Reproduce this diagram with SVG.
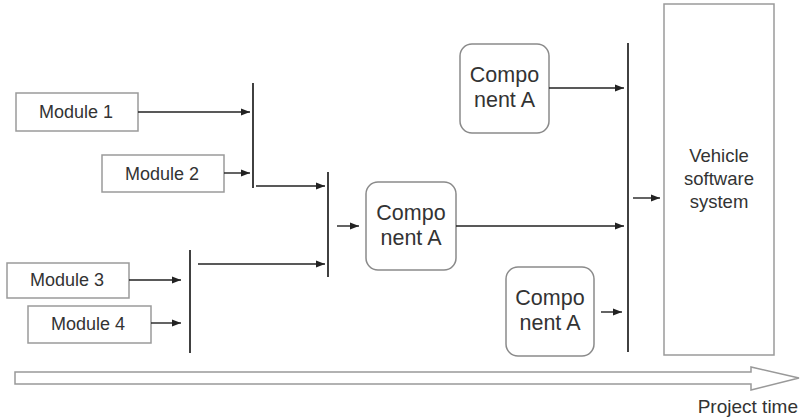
<svg xmlns="http://www.w3.org/2000/svg" width="800" height="420" viewBox="0 0 800 420">
<style>
.mod{fill:#fff;stroke:#9a9a9a;stroke-width:1.5}
.comp{fill:#fff;stroke:#8a8a8a;stroke-width:1.5}
.t{font-family:"Liberation Sans",Arial,sans-serif;fill:#333;text-anchor:middle}
.ts{font-size:18px}
.tv{font-size:18.5px}
.tc{font-size:21.5px}
.bar{stroke:#111;stroke-width:1.6}
.c{stroke:#222;stroke-width:1.4;fill:none;marker-end:url(#ah)}
</style>
<defs>
<marker id="ah" markerUnits="userSpaceOnUse" markerWidth="10" markerHeight="8" refX="9" refY="4" orient="auto">
<path d="M0,0.5 L9,4 L0,7.5 Z" fill="#222"/>
</marker>
</defs>
<g id="module1"><rect class="mod" x="16" y="93" width="122" height="38"/><text class="t ts" x="76" y="118">Module 1</text></g>
<g id="module2"><rect class="mod" x="102" y="155" width="122" height="37"/><text class="t ts" x="162" y="180">Module 2</text></g>
<g id="module3"><rect class="mod" x="7" y="263" width="122" height="35"/><text class="t ts" x="67" y="286">Module 3</text></g>
<g id="module4"><rect class="mod" x="28" y="306" width="123" height="37"/><text class="t ts" x="88" y="330">Module 4</text></g>
<g id="compMid"><rect class="comp" x="366" y="182" width="90" height="88" rx="12"/><text class="t tc" x="411" y="220">Compo</text><text class="t tc" x="411" y="245">nent A</text></g>
<g id="compTop"><rect class="comp" x="460" y="44" width="89" height="89" rx="12"/><text class="t tc" x="504.5" y="82">Compo</text><text class="t tc" x="504.5" y="107">nent A</text></g>
<g id="compLow"><rect class="comp" x="506" y="267" width="88" height="89" rx="12"/><text class="t tc" x="550" y="305">Compo</text><text class="t tc" x="550" y="330">nent A</text></g>
<g id="vehicle"><rect class="mod" x="664" y="4" width="110" height="351"/><text class="t tv" x="719" y="162">Vehicle</text><text class="t tv" x="719" y="185">software</text><text class="t tv" x="719" y="208">system</text></g>
<g id="bars">
<line class="bar" x1="253" y1="83" x2="253" y2="188"/>
<line class="bar" x1="328" y1="172" x2="328" y2="277"/>
<line class="bar" x1="190" y1="250" x2="190" y2="353"/>
<line class="bar" x1="628" y1="43" x2="628" y2="352"/>
</g>
<g id="connectors">
<line class="c" x1="138" y1="112" x2="250" y2="112"/>
<line class="c" x1="224" y1="173" x2="250" y2="173"/>
<line class="c" x1="129" y1="280" x2="181" y2="280"/>
<line class="c" x1="151" y1="323" x2="181" y2="323"/>
<line class="c" x1="256" y1="186" x2="325" y2="186"/>
<line class="c" x1="198" y1="264" x2="325" y2="264"/>
<line class="c" x1="337" y1="226" x2="359" y2="226"/>
<line class="c" x1="456" y1="226" x2="624" y2="226"/>
<line class="c" x1="549" y1="88" x2="624" y2="88"/>
<line class="c" x1="601" y1="312" x2="622" y2="312"/>
<line class="c" x1="633" y1="198" x2="660" y2="198"/>
</g>
<g id="timeline">
<path d="M15,372 L751,372 L751,367 L799,378 L751,390 L751,384 L15,384 Z" fill="#fff" stroke="#999" stroke-width="1.5"/>
<text x="798" y="413" font-family="Liberation Sans,Arial,sans-serif" font-size="19" fill="#333" text-anchor="end">Project time</text>
</g>
</svg>
